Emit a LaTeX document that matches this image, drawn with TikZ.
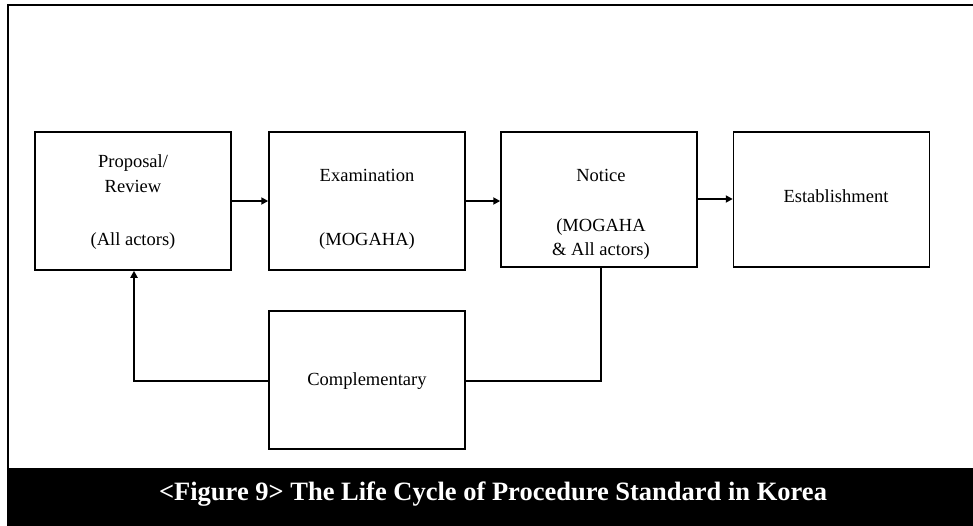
\documentclass[tikz,border=0pt]{standalone}
\usepackage{fontspec}
\setmainfont{Liberation Serif}
\usetikzlibrary{arrows.meta}
\begin{document}
\begin{tikzpicture}[x=1pt,y=-1pt,
  stagebox/.style={draw=black,line width=1.5pt,minimum width=196pt,inner sep=0pt},
  lbl/.style={font=\fontsize{18.5}{20}\selectfont,inner sep=0pt,anchor=center},
  conn/.style={line width=2.2pt},
  arr/.style={conn,-{Triangle[length=7pt,width=7pt]}}]
\useasboundingbox (0,0) rectangle (973,525);
% frame
\draw[line width=2pt] (974,4.5) -- (7.5,4.5) -- (7.5,526);
\fill[black] (7,468) rectangle (974,526);
% boxes
\node[stagebox,minimum height=138pt] (b1) at (133,201) {};
\node[stagebox,minimum height=138pt] (b2) at (367,201) {};
\node[stagebox,minimum height=135pt] (b3) at (599,199.5) {};
\node[stagebox,minimum height=135pt] (b4) at (831.5,199.5) {};
\node[stagebox,minimum height=138pt] (b5) at (367,380) {};
% texts
\node[lbl] (t1a) at (133,163) {Proposal/};
\node[lbl] (t1b) at (133,186) {Review};
\node[lbl] (t1c) at (133,241) {(All actors)};
\node[lbl] (t2a) at (367,175) {Examination};
\node[lbl] (t2b) at (367,241) {(MOGAHA)};
\node[lbl] (t3a) at (601,175) {Notice};
\node[lbl] (t3b) at (601,227) {(MOGAHA};
\node[lbl] (t3c) at (601,251) {\&\ All actors)};
\node[lbl] (t4a) at (836,196) {Establishment};
\node[lbl] (t5a) at (367,381) {Complementary};
% arrows
\draw[arr] (b1.east |- 0,201) -- (b2.west |- 0,201);
\draw[arr] (b2.east |- 0,201) -- (b3.west |- 0,201);
\draw[arr] (b3.east |- 0,199) -- (b4.west |- 0,199);
\coordinate (c1) at (601,381);
\coordinate (c2) at (134,381);
\draw[conn] (b3.south -| c1) -- (c1) -- (b5.east |- c1);
\draw[arr] (b5.west |- c2) -- (c2) -- (b1.south -| c2);
% caption
\node[text=white,font=\bfseries\fontsize{26.5}{30}\selectfont,inner sep=0pt] (cap) at (493,494) {<Figure 9> The Life Cycle of Procedure Standard in Korea};
\end{tikzpicture}
\end{document}
